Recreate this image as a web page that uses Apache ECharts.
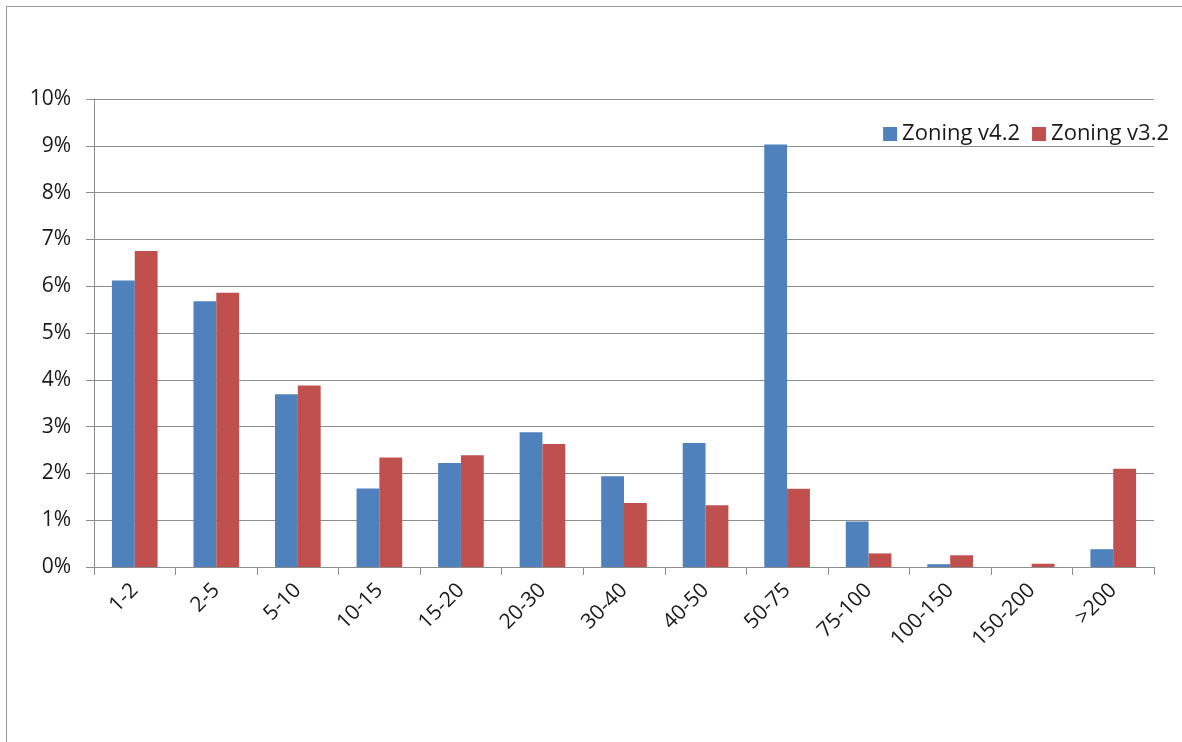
<!DOCTYPE html>
<html>
<head>
<meta charset="utf-8">
<script src="https://cdn.jsdelivr.net/npm/echarts@6/dist/echarts.min.js"></script>
<style>
  html, body { margin: 0; padding: 0; background: #fff; }
  #frame {
    position: absolute; left: 6px; top: 6px; width: 1300px; height: 800px;
    border-left: 1px solid #9a9a9a; border-top: 1px solid #9a9a9a;
  }
  #chart { position: absolute; left: 0; top: 0; width: 1182px; height: 742px; }
</style>
</head>
<body>
<div id="frame"></div>
<div id="chart"></div>
<script>
// distance bands
const categories = ["1-2", "2-5", "5-10", "10-15", "15-20", "20-30", "30-40", "40-50", "50-75", "75-100", "100-150", "150-200", ">200"]
// share of trips, percent
const zoningV42 = [6.12, 5.68, 3.69, 1.68, 2.22, 2.88, 1.94, 2.65, 9.03, 0.97, 0.06, 0, 0.38]
const zoningV32 = [6.75, 5.86, 3.88, 2.34, 2.39, 2.63, 1.37, 1.32, 1.67, 0.29, 0.25, 0.07, 2.10]
const yTicks = [0, 1, 2, 3, 4, 5, 6, 7, 8, 9, 10]

const FONT = "Open Sans"
const chart = echarts.init(document.getElementById("chart"))

chart.setOption({
  backgroundColor: "transparent",
  animation: false,
  textStyle: { fontFamily: FONT },
  legend: {
    right: 8,
    top: 118,
    itemWidth: 14,
    itemHeight: 14,
    itemGap: 12,
    icon: "rect",
    textStyle: { fontSize: 22, color: "#1a1a1a", fontFamily: FONT },
    data: ["Zoning v4.2", "Zoning v3.2"],
  },
  grid: { left: 94, right: 28, top: 99, bottom: 175, containLabel: false },
  xAxis: {
    type: "category",
    data: categories,
    axisLine: { lineStyle: { color: "#8c8c8c", width: 1 } },
    axisTick: { show: true, length: 8, alignWithLabel: false, lineStyle: { color: "#8c8c8c" } },
    axisLabel: { rotate: 45, fontSize: 21, color: "#1a1a1a", margin: 20, fontFamily: FONT, interval: 0 },
  },
  yAxis: {
    type: "value",
    min: yTicks[0],
    max: yTicks[yTicks.length - 1],
    interval: 1,
    axisLine: { show: true, lineStyle: { color: "#8c8c8c" } },
    axisTick: { show: true, length: 8, lineStyle: { color: "#8c8c8c" } },
    axisLabel: { formatter: "{value}%", fontSize: 21, color: "#1a1a1a", margin: 23, fontFamily: FONT },
    splitLine: { lineStyle: { color: "#8c8c8c", width: 1 } },
  },
  series: [
    {
      name: "Zoning v4.2",
      type: "bar",
      data: zoningV42,
      barGap: "0%",
      barCategoryGap: "44%",
      itemStyle: { color: "#4F81BD" },
    },
    {
      name: "Zoning v3.2",
      type: "bar",
      data: zoningV32,
      barGap: "0%",
      barCategoryGap: "44%",
      itemStyle: { color: "#C0504D" },
    },
  ],
})
</script>
</body>
</html>
